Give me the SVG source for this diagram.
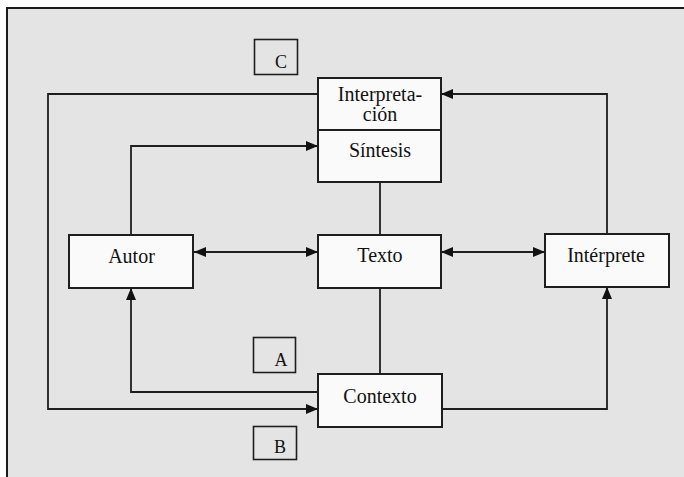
<svg xmlns="http://www.w3.org/2000/svg" width="684" height="477" viewBox="0 0 684 477">
<style>
.box{fill:#fafafa;stroke:#1e1e1e;stroke-width:2}
.lbl{fill:none;stroke:#1e1e1e;stroke-width:1.6}
.ln{fill:none;stroke:#1e1e1e;stroke-width:1.8}
.t{font-family:'Liberation Serif','DejaVu Serif',serif;font-size:20px;fill:#111;text-anchor:middle}
.s{font-family:'Liberation Serif','DejaVu Serif',serif;font-size:18px;fill:#111;text-anchor:middle}
</style>
<defs>
<marker id="ah" markerUnits="userSpaceOnUse" markerWidth="13" markerHeight="11" refX="12" refY="5" orient="auto-start-reverse">
<path d="M0,0 L12,5 L0,10 z" fill="#111"/>
</marker>
</defs>
<rect x="0" y="0" width="684" height="477" fill="#ffffff"/>
<rect x="7" y="8" width="700" height="500" fill="#e4e4e4" stroke="#1a1a1a" stroke-width="2"/>

<g id="connectors">
<line class="ln" x1="380" y1="182" x2="380" y2="235"/>
<line class="ln" x1="380" y1="288" x2="380" y2="374"/>
<line class="ln" x1="194" y1="252" x2="318" y2="252" marker-start="url(#ah)" marker-end="url(#ah)"/>
<line class="ln" x1="441" y1="252" x2="545" y2="252" marker-start="url(#ah)" marker-end="url(#ah)"/>
<polyline class="ln" points="131,235 131,146 318,146" marker-end="url(#ah)"/>
<polyline class="ln" points="318,392 131,392 131,288" marker-end="url(#ah)"/>
<polyline class="ln" points="318,94 48,94 48,409 318,409" marker-end="url(#ah)"/>
<polyline class="ln" points="442,409 607,409 607,287" marker-end="url(#ah)"/>
<polyline class="ln" points="607,234 607,94 441,94" marker-end="url(#ah)"/>
</g>

<g id="label-C">
<rect class="lbl" x="254.5" y="39.5" width="43" height="35"/>
<text class="s" x="281" y="68" font-family="Liberation Serif, serif">C</text>
</g>
<g id="label-A">
<rect class="lbl" x="253.5" y="337.5" width="42" height="35"/>
<text class="s" x="281" y="366" font-family="Liberation Serif, serif">A</text>
</g>
<g id="label-B">
<rect class="lbl" x="253.5" y="426.5" width="43" height="33"/>
<text class="s" x="280" y="453" font-family="Liberation Serif, serif">B</text>
</g>

<g id="interpretacion">
<rect class="box" x="318" y="78" width="123" height="104"/>
<line class="ln" x1="318" y1="130" x2="441" y2="130"/>
<text class="t" x="380" y="101" font-family="Liberation Serif, serif">Interpreta-</text>
<text class="t" x="380" y="121" font-family="Liberation Serif, serif">ción</text>
<text class="t" x="380" y="157" font-family="Liberation Serif, serif">Síntesis</text>
</g>
<g id="autor">
<rect class="box" x="69" y="235" width="124" height="53"/>
<text class="t" x="131.5" y="263" font-family="Liberation Serif, serif">Autor</text>
</g>
<g id="texto">
<rect class="box" x="318" y="235" width="123" height="53"/>
<text class="t" x="380" y="262" font-family="Liberation Serif, serif">Texto</text>
</g>
<g id="interprete">
<rect class="box" x="545" y="234" width="124" height="53"/>
<text class="t" x="606" y="262" font-family="Liberation Serif, serif">Intérprete</text>
</g>
<g id="contexto">
<rect class="box" x="318" y="374" width="124" height="53"/>
<text class="t" x="380" y="403" font-family="Liberation Serif, serif">Contexto</text>
</g>
</svg>
